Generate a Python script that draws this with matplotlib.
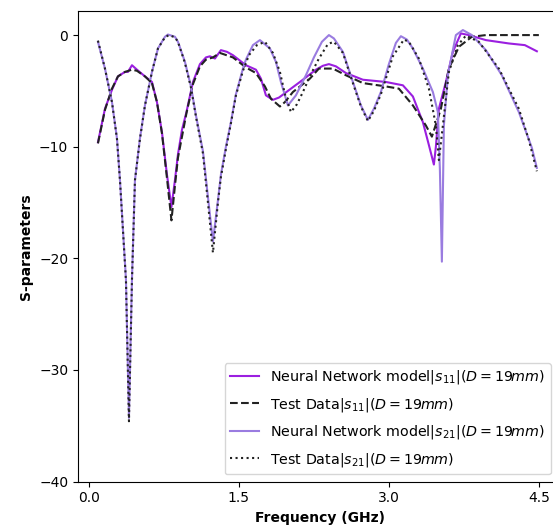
import matplotlib

matplotlib.use("Agg")
import matplotlib.pyplot as plt

# -----------------------------
# Data
# -----------------------------
f_nn11 = [0.09, 0.16, 0.23, 0.29, 0.36, 0.39, 0.43, 0.48, 0.56, 0.63, 0.68, 0.73,
          0.78, 0.825, 0.86, 0.89, 0.93, 0.975, 1.04, 1.11, 1.17, 1.21, 1.26, 1.32,
          1.38, 1.44, 1.57, 1.67, 1.72, 1.77, 1.84, 1.90, 1.96, 2.11, 2.27, 2.34,
          2.40, 2.47, 2.57, 2.74, 2.97, 3.14, 3.24, 3.34, 3.40, 3.45, 3.47, 3.50,
          3.57, 3.64, 3.72, 3.80, 3.97, 4.20, 4.36, 4.48]
s_nn11 = [-9.6, -6.6, -4.9, -3.7, -3.3, -3.3, -2.7, -3.1, -3.7, -4.2, -6.0, -8.7,
          -12.5, -15.4, -13.0, -10.7, -8.5, -6.9, -4.2, -2.6, -2.0, -1.9, -2.1, -1.35,
          -1.5, -1.8, -2.7, -3.1, -3.9, -5.4, -5.8, -5.6, -5.2, -4.2, -3.1, -2.75,
          -2.6, -2.8, -3.4, -4.0, -4.2, -4.5, -5.5, -7.8, -9.85, -11.6, -10.0, -6.6,
          -4.2, -1.5, 0.15, 0.0, -0.45, -0.75, -0.9, -1.45]

f_td11 = [0.09, 0.16, 0.23, 0.29, 0.36, 0.43, 0.48, 0.56, 0.63, 0.68, 0.73, 0.78,
          0.825, 0.86, 0.89, 0.975, 1.04, 1.11, 1.17, 1.24, 1.31, 1.44, 1.57, 1.67,
          1.76, 1.82, 1.91, 1.96, 2.04, 2.21, 2.30, 2.44, 2.57, 2.74, 2.97, 3.10,
          3.24, 3.37, 3.43, 3.47, 3.52, 3.60, 3.70, 3.83, 3.97, 4.50]
s_td11 = [-9.7, -6.7, -4.8, -3.7, -3.3, -3.1, -3.2, -3.7, -4.3, -6.0, -8.8, -12.8,
          -16.6, -13.5, -11.0, -7.0, -4.4, -2.8, -2.2, -2.0, -1.6, -2.0, -2.9, -3.4,
          -4.6, -5.7, -6.4, -6.0, -5.1, -3.9, -3.0, -3.0, -3.6, -4.3, -4.6, -4.8,
          -6.3, -8.1, -9.1, -8.0, -6.6, -3.0, -1.05, -0.15, 0.0, 0.0]

f_nn21 = [0.09, 0.16, 0.23, 0.28, 0.31, 0.37, 0.40, 0.43, 0.46, 0.51, 0.56, 0.63,
          0.69, 0.76, 0.79, 0.86, 0.89, 0.96, 1.02, 1.07, 1.14, 1.19, 1.24, 1.29,
          1.32, 1.37, 1.42, 1.47, 1.54, 1.57, 1.64, 1.71, 1.81, 1.87, 1.92, 1.99,
          2.07, 2.17, 2.25, 2.33, 2.40, 2.45, 2.54, 2.64, 2.72, 2.79, 2.85, 2.92,
          3.00, 3.07, 3.12, 3.18, 3.24, 3.34, 3.44, 3.49, 3.51, 3.53, 3.55, 3.59,
          3.67, 3.74, 3.83, 3.97, 4.13, 4.30, 4.43, 4.48]
s_nn21 = [-0.6, -3.0, -6.0, -9.25, -13.0, -21.9, -34.3, -21.9, -13.0, -9.25, -6.3, -3.3,
          -1.2, -0.15, 0.05, -0.15, -0.6, -2.4, -4.6, -7.2, -10.4, -14.5, -18.5, -14.8,
          -12.5, -10.0, -7.8, -5.3, -3.0, -2.2, -0.9, -0.45, -1.2, -2.4, -4.2, -6.3,
          -5.4, -3.6, -2.0, -0.6, 0.0, -0.3, -1.5, -4.2, -6.3, -7.6, -6.6, -5.1,
          -2.6, -0.7, -0.1, -0.4, -1.2, -3.0, -5.1, -6.9, -12.0, -20.3, -8.1, -3.6,
          0.0, 0.45, 0.0, -1.35, -3.6, -6.9, -10.1, -11.9]

f_td21 = [0.09, 0.16, 0.23, 0.28, 0.31, 0.37, 0.40, 0.43, 0.46, 0.51, 0.56, 0.63,
          0.69, 0.76, 0.80, 0.86, 0.89, 0.96, 1.02, 1.07, 1.14, 1.19, 1.24, 1.29,
          1.32, 1.37, 1.42, 1.47, 1.54, 1.60, 1.68, 1.76, 1.84, 1.91, 1.96, 2.02,
          2.08, 2.14, 2.22, 2.30, 2.39, 2.45, 2.54, 2.64, 2.72, 2.79, 2.85, 2.92,
          3.04, 3.15, 3.20, 3.30, 3.40, 3.47, 3.50, 3.54, 3.60, 3.69, 3.77, 3.90,
          4.10, 4.30, 4.40, 4.48]
s_td21 = [-0.5, -3.0, -6.0, -9.3, -13.0, -22.0, -34.6, -22.0, -13.0, -9.3, -6.3, -3.3,
          -1.2, -0.2, 0.0, -0.2, -0.6, -2.5, -4.7, -7.3, -10.6, -15.0, -19.5, -15.0,
          -12.7, -10.2, -7.9, -5.4, -3.2, -1.8, -0.9, -0.6, -1.6, -3.3, -5.3, -6.9,
          -6.2, -5.1, -3.5, -2.1, -0.8, -0.6, -1.6, -4.3, -6.4, -7.7, -6.8, -5.3,
          -1.9, -0.4, -0.6, -2.1, -4.8, -8.1, -11.2, -8.1, -3.3, -0.9, -0.05, -0.6,
          -3.0, -6.6, -9.4, -12.2]

labels = [
    r"Neural Network model$|s_{11}|(D=19mm)$",
    r"Test Data$|s_{11}|(D=19mm)$",
    r"Neural Network model$|s_{21}|(D=19mm)$",
    r"Test Data$|s_{21}|(D=19mm)$",
]
xticks = [0.0, 1.5, 3.0, 4.5]
yticks = [0, -10, -20, -30, -40]

# -----------------------------
# Plot
# -----------------------------
fig = plt.figure(figsize=(5.53, 5.28), dpi=100)
ax = fig.add_axes([0.141, 0.088, 0.875, 0.891])

ax.plot(f_nn11, s_nn11, color="#9b1fe0", lw=1.5, label=labels[0])
ax.plot(f_td11, s_td11, color="#222222", lw=1.5, ls="--", label=labels[1])
ax.plot(f_nn21, s_nn21, color="#9a7ce0", lw=1.5, label=labels[2])
ax.plot(f_td21, s_td21, color="#222222", lw=1.5, ls=":", label=labels[3])

ax.set_xlim(-0.11, 4.73)
ax.set_ylim(-40, 2.15)
ax.set_xticks(xticks)
ax.set_xticklabels(["0.0", "1.5", "3.0", "4.5"])
ax.set_yticks(yticks)

ax.set_xlabel("Frequency (GHz)", fontweight="bold")
ax.set_ylabel("S-parameters", fontweight="bold")

ax.legend(loc="lower right", bbox_to_anchor=(0.978, 0.015), borderaxespad=0,
          fontsize=10.3, labelspacing=0.66)

fig.savefig("out.png", dpi=100)
plt.close(fig)
